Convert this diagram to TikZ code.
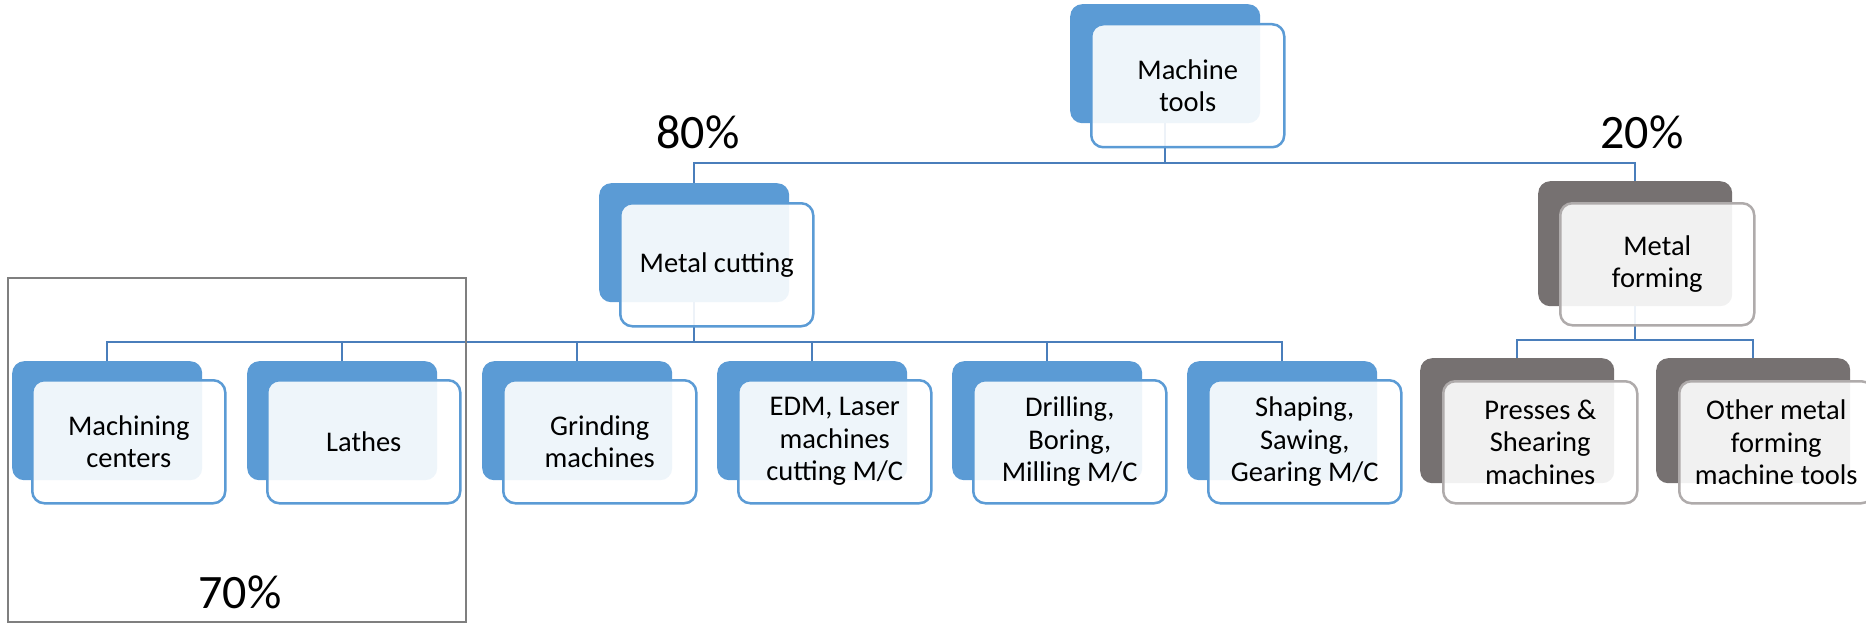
\documentclass[tikz,border=0pt]{standalone}
\usepackage{fontspec}
\setmainfont{Carlito}
\usetikzlibrary{backgrounds}
\definecolor{bblue}{HTML}{5B9BD5}
\definecolor{cblue}{HTML}{4A7EBB}
\definecolor{dgray}{HTML}{767171}
\definecolor{lgray}{HTML}{AFABAB}
\definecolor{fgray}{HTML}{7F7F7F}
\tikzset{
 backbox/.style={rectangle, rounded corners=12pt, fill=bblue, minimum width=190pt, minimum height=119pt, anchor=north west, inner sep=0pt},
 frontbox/.style={rectangle, rounded corners=12pt, draw=bblue, line width=2.5pt, fill=white, fill opacity=0.9, text opacity=1, minimum width=193pt, minimum height=123pt, anchor=north west, inner sep=2pt, align=center, font=\fontsize{28.5}{32.5}\selectfont},
 grayback/.style={backbox, fill=dgray, minimum width=194pt, minimum height=125pt},
 grayfront/.style={frontbox, draw=lgray, minimum width=194pt, minimum height=122pt},
 conn/.style={draw=cblue, line width=2pt},
 pct/.style={inner sep=0pt, font=\fontsize{48}{54}\selectfont},
}
\begin{document}
\begin{tikzpicture}[x=1pt,y=-1pt]
\useasboundingbox (0,0) rectangle (1866,623);
% frame
\draw[fgray, line width=2pt] (8,278) rectangle (466,622);
% bar coordinates
\coordinate (bar1) at (0,163);
\coordinate (bar2) at (0,342);
\coordinate (bar3) at (0,340);
% back boxes
\node[backbox] (mtb) at (1070,4) {};
\node[backbox] (mcb) at (599,183) {};
\node[grayback] (mfb) at (1538,181) {};
\node[backbox] (b1b) at (12,361) {};
\node[backbox] (b2b) at (247,361) {};
\node[backbox] (b3b) at (482,361) {};
\node[backbox] (b4b) at (717,361) {};
\node[backbox] (b5b) at (952,361) {};
\node[backbox] (b6b) at (1187,361) {};
\node[grayback] (g1b) at (1420,358) {};
\node[grayback] (g2b) at (1656,358) {};
% connectors behind
\begin{scope}[on background layer]
\draw[conn] (mtb.south) -- (mtb.south |- bar1) -| (mcb.north);
\draw[conn] (mtb.south |- bar1) -| (mfb.north);
\draw[conn] (mcb.south) -- (mcb.south |- bar2);
\foreach \n in {b1b,b2b,b3b,b4b,b5b,b6b}{
  \draw[conn] (mcb.south |- bar2) -| (\n.north);
}
\draw[conn] (mfb.south) -- (mfb.south |- bar3) -| (g1b.north);
\draw[conn] (mfb.south |- bar3) -| (g2b.north);
\end{scope}
% front boxes
\node[frontbox] (mt) at (1090,23) {Machine\\tools};
\node[frontbox] (mc) at (619,202) {Metal cutting};
\node[grayfront] (mf) at (1559,202) {Metal\\forming};
\node[frontbox] (b1) at (31,379) {Machining\\centers};
\node[frontbox] (b2) at (266,379) {Lathes};
\node[frontbox] (b3) at (502,379) {Grinding\\machines};
\node[frontbox] (b4) at (737,379) {EDM, Laser\\machines\\cutting M/C};
\node[frontbox] (b5) at (972,379) {Drilling,\\Boring,\\Milling M/C};
\node[frontbox] (b6) at (1207,379) {Shaping,\\Sawing,\\Gearing M/C};
\node[grayfront] (g1) at (1442,380) {Presses \&\\Shearing\\machines};
\node[grayfront] (g2) at (1678,380) {Other metal\\forming\\machine tools};
% percentages
\node[pct] (p80) at (698,132) {80\%};
\node[pct] (p20) at (1642,132) {20\%};
\node[pct] (p70) at (240,592) {70\%};
\end{tikzpicture}
\end{document}
